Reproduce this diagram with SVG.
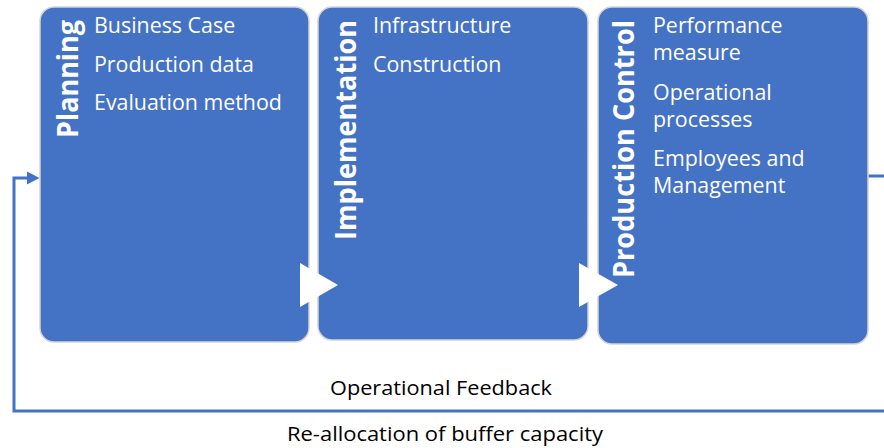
<svg xmlns="http://www.w3.org/2000/svg" width="884" height="448" viewBox="0 0 884 448">
<style>
.box{fill:#4472C4;stroke:#d4d4d4;stroke-width:1.5}
.item{font-family:"Open Sans","Liberation Sans",sans-serif;font-size:21.4px;fill:#ffffff}
.title{font-family:"Open Sans","Liberation Sans",sans-serif;font-size:29px;font-weight:bold;fill:#ffffff}
.lbl{font-family:"Open Sans","Liberation Sans",sans-serif;font-size:20px;fill:#000000}
.conn{fill:none;stroke:#4472C4;stroke-width:3}
.chev{fill:#ffffff}
</style>
<rect width="884" height="448" fill="#ffffff"/>
<g id="connectors">
<path class="conn" d="M868 176 H887 V411 H14 V178 H29"/>
<polygon points="27,171.5 39.5,178 27,184.5" fill="#4472C4"/>
</g>
<g id="planning">
<rect class="box" x="40" y="7" width="269" height="335" rx="14"/>
<text class="title" transform="translate(78,20) rotate(-90)" text-anchor="end" textLength="118" lengthAdjust="spacingAndGlyphs">Planning</text>
<text class="item" x="94" y="33">Business Case</text>
<text class="item" x="94" y="72">Production data</text>
<text class="item" x="94" y="110">Evaluation method</text>
</g>
<g id="implementation">
<rect class="box" x="318" y="7" width="270" height="333" rx="14"/>
<text class="title" transform="translate(356,20) rotate(-90)" text-anchor="end" textLength="220" lengthAdjust="spacingAndGlyphs">Implementation</text>
<text class="item" x="373" y="33">Infrastructure</text>
<text class="item" x="373" y="72">Construction</text>
</g>
<g id="production-control">
<rect class="box" x="598" y="7" width="270" height="337" rx="14"/>
<text class="title" transform="translate(634,20) rotate(-90)" text-anchor="end" textLength="258" lengthAdjust="spacingAndGlyphs">Production Control</text>
<text class="item" x="653" y="33">Performance</text>
<text class="item" x="653" y="60">measure</text>
<text class="item" x="653" y="100">Operational</text>
<text class="item" x="653" y="127">processes</text>
<text class="item" x="653" y="166">Employees and</text>
<text class="item" x="653" y="193">Management</text>
</g>
<g id="chevrons">
<polygon class="chev" points="300,263 338,285 300,307"/>
<polygon class="chev" points="579,263 618,285 579,307"/>
</g>
<g id="labels">
<text class="lbl" x="441" y="395" text-anchor="middle" textLength="222" lengthAdjust="spacingAndGlyphs">Operational Feedback</text>
<text class="lbl" x="445" y="441" text-anchor="middle" textLength="316" lengthAdjust="spacingAndGlyphs">Re-allocation of buffer capacity</text>
</g>
</svg>
